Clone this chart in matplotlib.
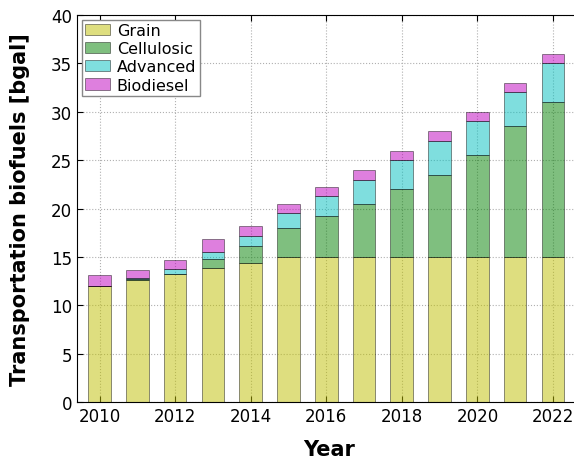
import matplotlib.pyplot as plt
import numpy as np

# RFS 各类生物燃料年度量 (十亿加仑)
years = np.arange(2010, 2023)
grain = [12.0, 12.6, 13.2, 13.8, 14.4, 15.0, 15.0, 15.0, 15.0, 15.0, 15.0, 15.0, 15.0]
cellulosic = [0.0, 0.1, 0.02, 1.0, 1.75, 3.0, 4.25, 5.5, 7.0, 8.5, 10.5, 13.5, 16.0]
advanced = [0.0, 0.15, 0.5, 0.72, 1.0, 1.5, 2.0, 2.5, 3.0, 3.5, 3.5, 3.5, 4.0]
biodiesel = [1.15, 0.8, 1.0, 1.28, 1.0, 1.0, 1.0, 1.0, 1.0, 1.0, 1.0, 1.0, 1.0]

series = [
    ("Grain", grain, "y"),
    ("Cellulosic", cellulosic, "g"),
    ("Advanced", advanced, "c"),
    ("Biodiesel", biodiesel, "m"),
]

fig = plt.figure(figsize=(5.74, 4.60), dpi=100)
ax = fig.add_axes([0.134, 0.124, 0.88, 0.841])

bottom = np.zeros(len(years))
for label, vals, color in series:
    vals = np.asarray(vals)
    ax.bar(years, vals, width=0.6, bottom=bottom, color=color, alpha=0.5,
           edgecolor="k", linewidth=0.6, label=label, zorder=2)
    bottom += vals

ax.set_xlim(2009.4, 2022.77)
ax.set_ylim(0, 40)
ax.set_xticks(np.arange(2010, 2023, 2))
ax.set_yticks(np.arange(0, 41, 5))
ax.tick_params(direction="in", labelsize=12, top=True, right=True, length=4)
ax.grid(True, color="#b0b0b0", linestyle=":", linewidth=0.8, zorder=0)
ax.set_axisbelow(True)

ax.set_xlabel("Year", fontsize=15, fontweight="bold", labelpad=10)
ax.set_ylabel("Transportation biofuels [bgal]", fontsize=15, fontweight="bold", labelpad=15)

leg = ax.legend(loc="upper left", fontsize=11.5, fancybox=False, framealpha=1,
                borderpad=0.2, labelspacing=0.2, handlelength=1.6,
                handletextpad=0.4, borderaxespad=0.3)
leg.get_frame().set_edgecolor("#888888")

fig.savefig("out.png", dpi=100)
